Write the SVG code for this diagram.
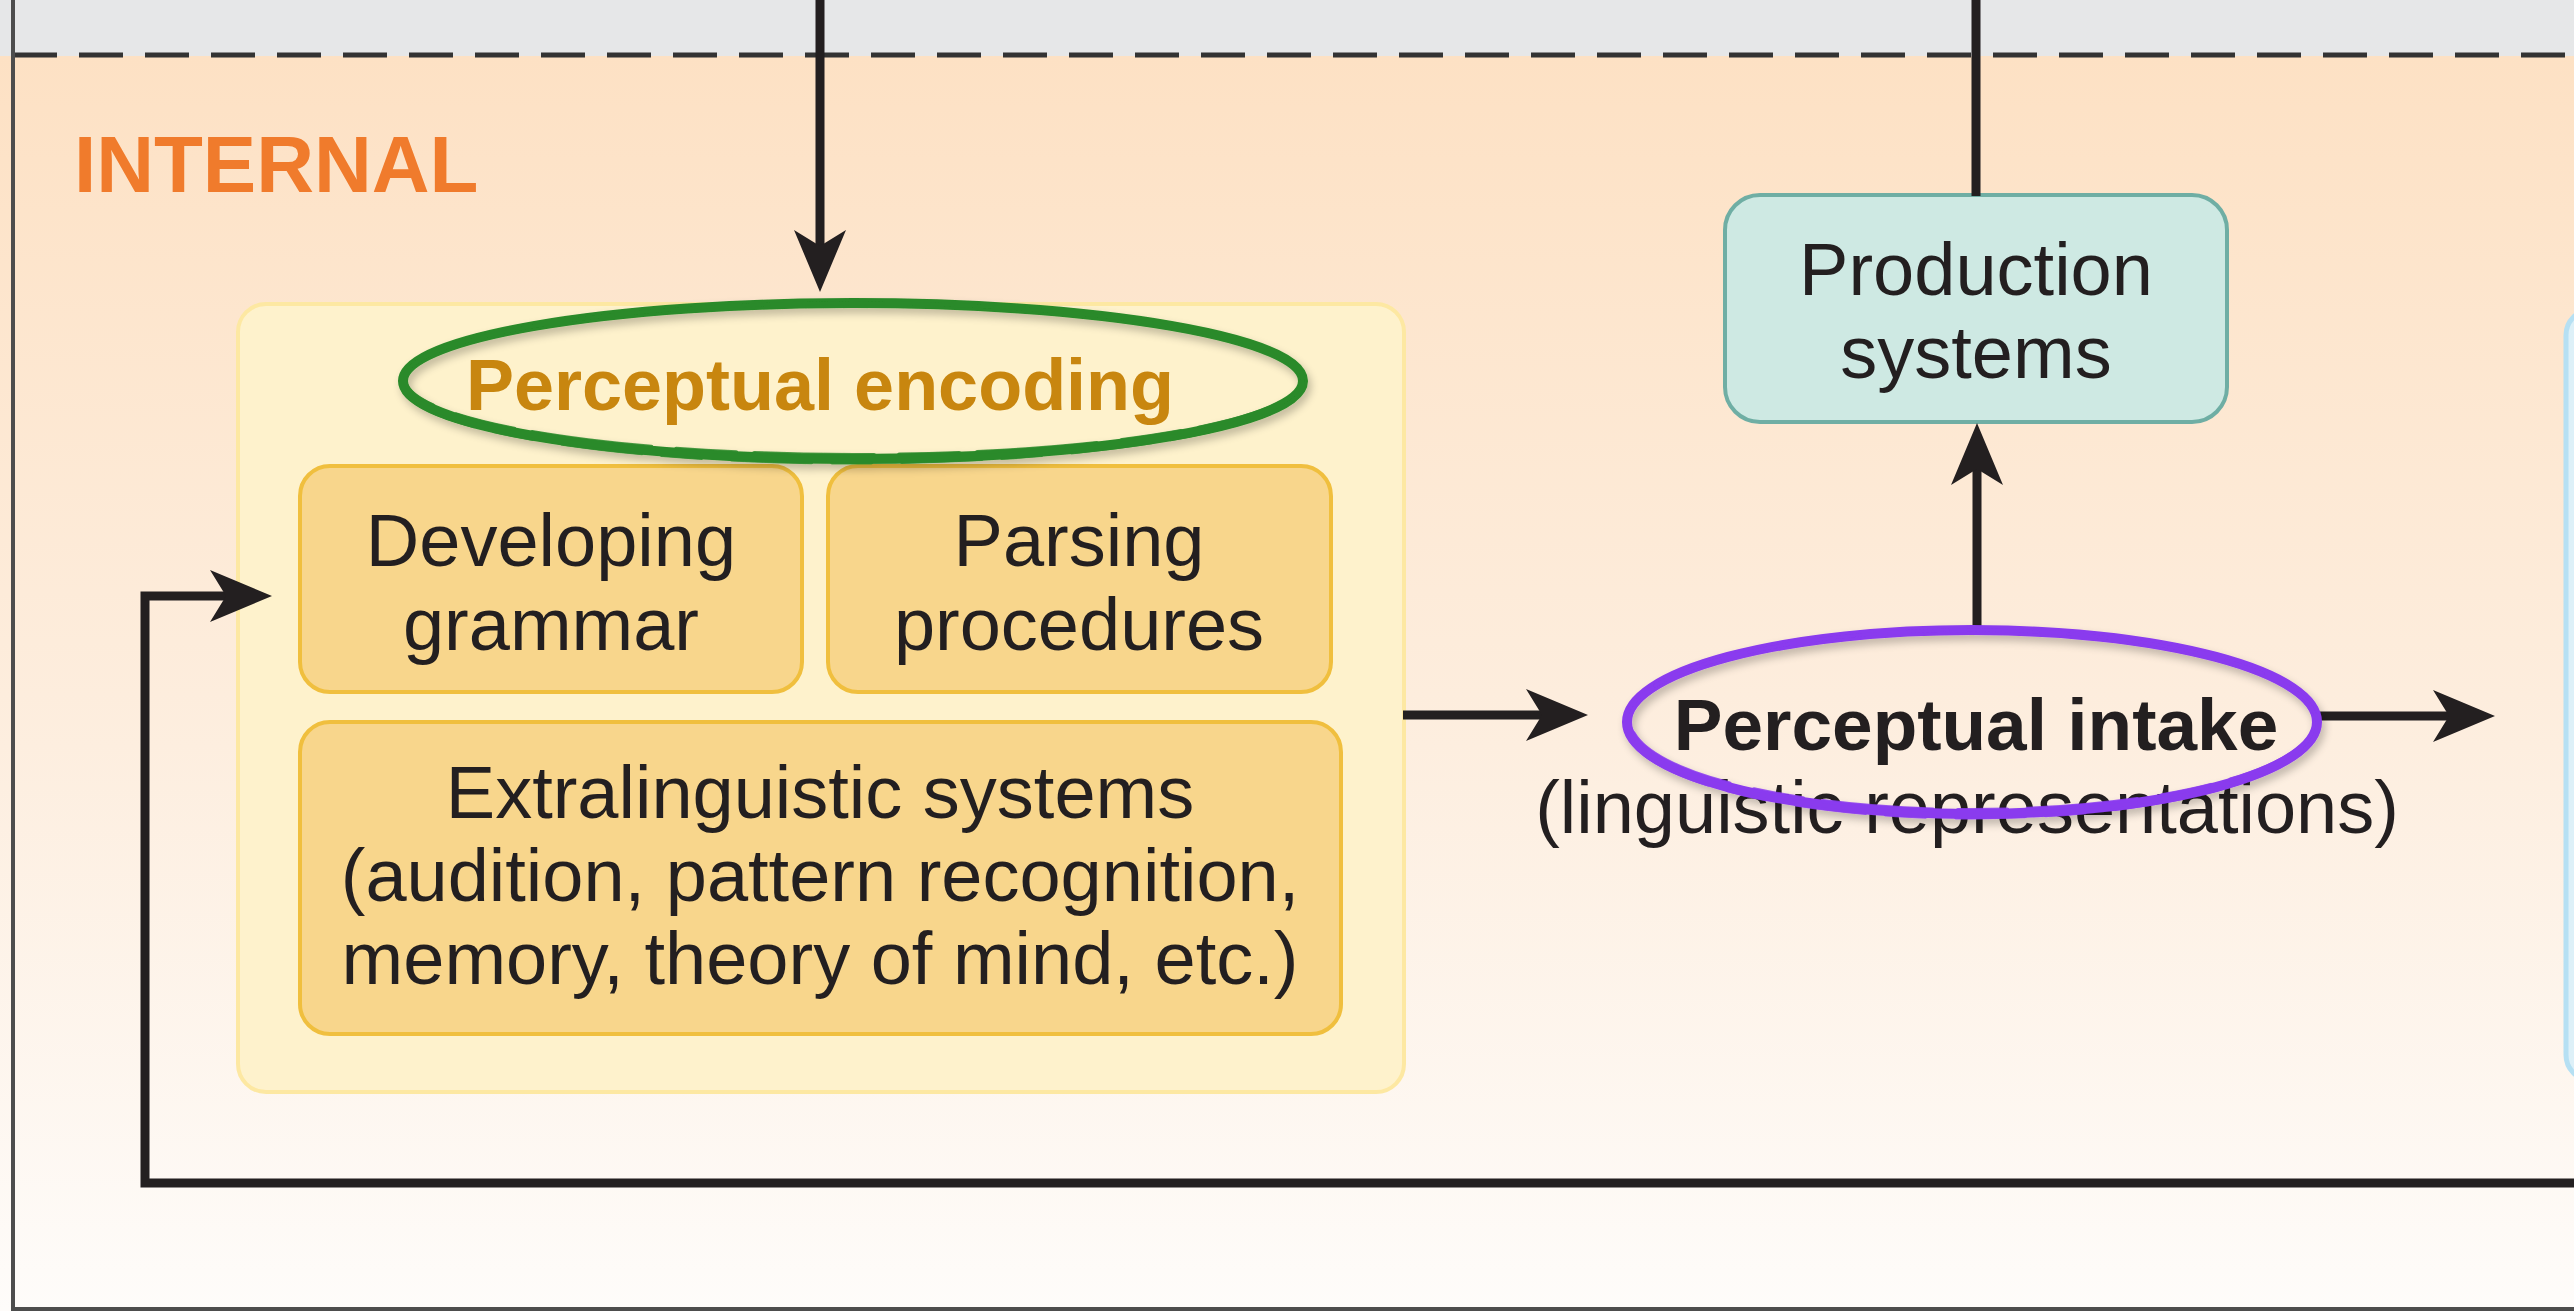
<svg xmlns="http://www.w3.org/2000/svg" width="2574" height="1311" viewBox="0 0 2574 1311">
  <defs>
    <linearGradient id="bg" x1="0" y1="0" x2="0" y2="1">
      <stop offset="0" stop-color="#FDE1C4"/>
      <stop offset="0.55" stop-color="#FDEEDF"/>
      <stop offset="1" stop-color="#FEFCFA"/>
    </linearGradient>
    <filter id="shadow" x="-10%" y="-30%" width="120%" height="160%">
      <feGaussianBlur in="SourceAlpha" stdDeviation="4"/>
      <feOffset dx="3" dy="5" result="b"/>
      <feComponentTransfer><feFuncA type="linear" slope="0.25"/></feComponentTransfer>
      <feMerge><feMergeNode/><feMergeNode in="SourceGraphic"/></feMerge>
    </filter>
    <marker id="arrow" viewBox="0 0 62 52" refX="22" refY="26" markerWidth="62" markerHeight="52" markerUnits="userSpaceOnUse" orient="auto">
      <path d="M0,0 L62,26 L0,52 L16,26 Z" fill="#231F20"/>
    </marker>
    <style>
      .txt { font-family: "Liberation Sans", Arial, sans-serif; font-size: 74px; fill: #231F20; text-anchor: middle; }
      .bold { font-weight: bold; }
      .inner { fill: #F8D68C; stroke: #F0BF3E; stroke-width: 4; }
      .conn { fill: none; stroke: #231F20; stroke-width: 9; stroke-linejoin: miter; }
      .brush { fill: none; stroke-linecap: round; }
    </style>
  </defs>

  <!-- background -->
  <rect x="0" y="0" width="2574" height="56" fill="#E6E7E8"/>
  <rect x="0" y="56" width="2574" height="1255" fill="url(#bg)"/>
  <line x1="13" y1="55" x2="2574" y2="55" stroke="#333333" stroke-width="5" stroke-dasharray="44 22"/>
  <line x1="13" y1="0" x2="13" y2="1311" stroke="#4D4D4D" stroke-width="4"/>
  <line x1="11" y1="1309" x2="2574" y2="1309" stroke="#4D4D4D" stroke-width="4"/>

  <g id="internal-label">
    <text x="74" y="192" font-family="Liberation Sans, Arial, sans-serif" font-size="80" font-weight="bold" fill="#F07B2C">INTERNAL</text>
  </g>

  <g id="perceptual-encoding">
    <rect x="238" y="304" width="1166" height="788" rx="28" fill="#FEF2CC" stroke="#FDE8A2" stroke-width="4"/>
    <text class="txt bold" x="820" y="410" style="fill:#C8860F;font-size:72px">Perceptual encoding</text>
  </g>

  <g id="developing-grammar">
    <rect class="inner" x="300" y="466" width="502" height="226" rx="30"/>
    <text class="txt" x="551" y="566">Developing</text>
    <text class="txt" x="551" y="650">grammar</text>
  </g>

  <g id="parsing-procedures">
    <rect class="inner" x="828" y="466" width="503" height="226" rx="30"/>
    <text class="txt" x="1079" y="566">Parsing</text>
    <text class="txt" x="1079" y="650">procedures</text>
  </g>

  <g id="extralinguistic-systems">
    <rect class="inner" x="300" y="722" width="1041" height="312" rx="30"/>
    <text class="txt" x="820" y="818">Extralinguistic systems</text>
    <text class="txt" x="820" y="901">(audition, pattern recognition,</text>
    <text class="txt" x="820" y="984">memory, theory of mind, etc.)</text>
  </g>

  <g id="production-systems">
    <rect x="1725" y="195" width="502" height="227" rx="35" fill="#CEE9E3" stroke="#6FAEA4" stroke-width="4"/>
    <text class="txt" x="1976" y="295">Production</text>
    <text class="txt" x="1976" y="378">systems</text>
  </g>

  <g id="perceptual-intake">
    <text class="txt bold" x="1976" y="750" style="font-size:73px">Perceptual intake</text>
    <text class="txt" x="1967" y="833">(linguistic representations)</text>
  </g>

  <g id="right-box">
    <rect x="2566" y="310" width="120" height="770" rx="25" fill="#DDF0F8" stroke="#B6E0F3" stroke-width="5"/>
  </g>

  <g id="connectors">
    <path class="conn" d="M820,0 V252" marker-end="url(#arrow)"/>
    <path class="conn" d="M1976,0 V196"/>
    <path class="conn" d="M1977,626 V463" marker-end="url(#arrow)"/>
    <path class="conn" d="M1403,715 H1548" marker-end="url(#arrow)"/>
    <path class="conn" d="M2318,716 H2455" marker-end="url(#arrow)"/>
    <path class="conn" d="M2580,1183 H145 V596 H232" marker-end="url(#arrow)"/>
  </g>

  <g id="encoding-highlight" filter="url(#shadow)">
    <ellipse class="brush" cx="853" cy="381" rx="450" ry="78" stroke="#2A8A2A" stroke-width="10"/>
    <ellipse class="brush" cx="854" cy="379" rx="449" ry="76" stroke="#2A8A2A" stroke-width="4" stroke-dasharray="120 18 60 25" opacity="0.85"/>
    <ellipse class="brush" cx="852" cy="383" rx="451" ry="80" stroke="#2A8A2A" stroke-width="3" stroke-dasharray="80 30 40 20" opacity="0.8"/>
  </g>

  <g id="intake-highlight" filter="url(#shadow)">
    <ellipse class="brush" cx="1972" cy="722" rx="345" ry="92" stroke="#8A3BEE" stroke-width="10"/>
    <ellipse class="brush" cx="1973" cy="720" rx="343" ry="90" stroke="#8A3BEE" stroke-width="4" stroke-dasharray="110 20 50 25" opacity="0.85"/>
    <ellipse class="brush" cx="1971" cy="724" rx="346" ry="94" stroke="#8A3BEE" stroke-width="3" stroke-dasharray="70 30 40 20" opacity="0.8"/>
  </g>
</svg>
